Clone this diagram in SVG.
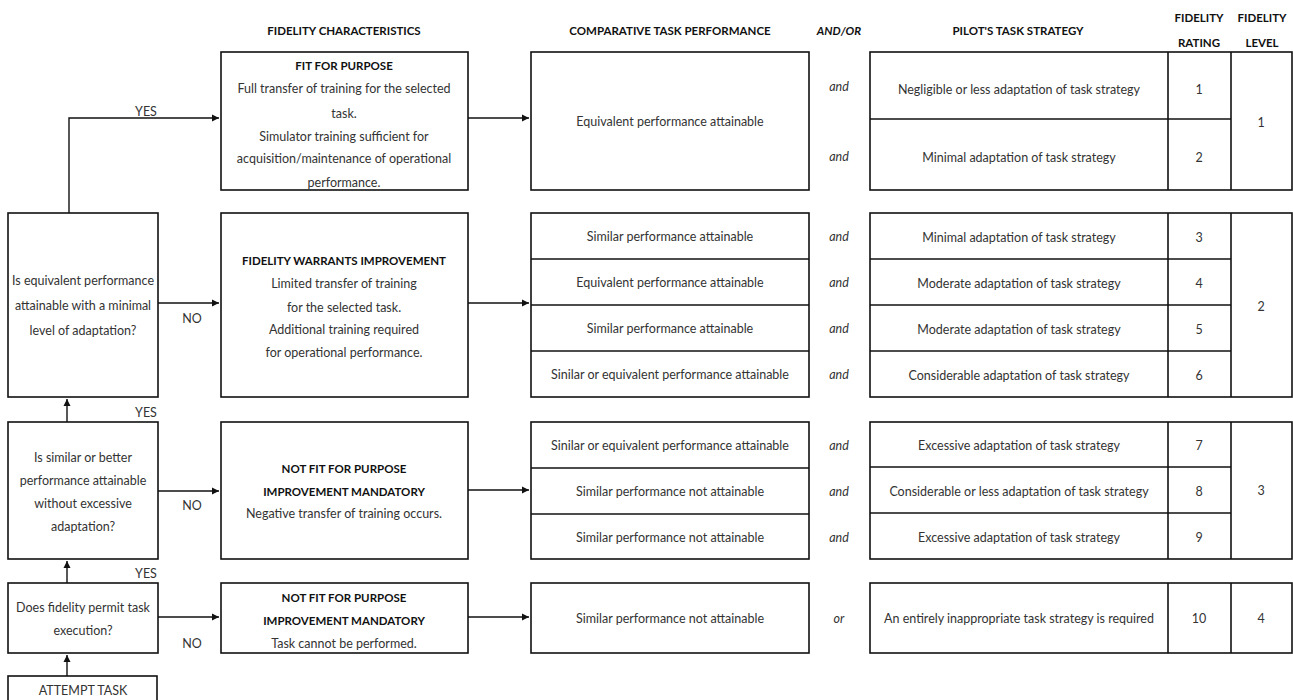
<svg xmlns="http://www.w3.org/2000/svg" width="1293" height="700" viewBox="0 0 1293 700">
<defs>
<marker id="arr" markerWidth="8" markerHeight="8" refX="7" refY="4" orient="auto" markerUnits="userSpaceOnUse">
<path d="M0,0.5 L7,4 L0,7.5 Z" fill="#111"/>
</marker>
<style>
text{font-family:Lato,"Open Sans","Liberation Sans",sans-serif;font-size:12.5px;fill:#333;text-anchor:middle;dominant-baseline:central}
.h{font-weight:bold;fill:#111;font-size:11.5px}
.hi{font-weight:bold;font-style:italic;fill:#111;font-size:11.5px}
.i{font-style:italic}
.box{fill:#fff;stroke:#111;stroke-width:1.6}
.ln{stroke:#111;stroke-width:1.6;fill:none}
.c{stroke:#111;stroke-width:1.4;fill:none}
</style>
</defs>
<rect width="1293" height="700" fill="#fff"/>

<g id="headers">
<text class="h" x="344" y="30">FIDELITY CHARACTERISTICS</text>
<text class="h" x="670" y="30">COMPARATIVE TASK PERFORMANCE</text>
<text class="hi" x="839" y="30">AND/OR</text>
<text class="h" x="1018" y="30">PILOT'S TASK STRATEGY</text>
<text class="h" x="1199" y="17">FIDELITY</text>
<text class="h" x="1199" y="42">RATING</text>
<text class="h" x="1262" y="17">FIDELITY</text>
<text class="h" x="1262" y="42">LEVEL</text>
</g>

<g id="connectors">
<polyline class="c" points="69,213 69,118 219,118" marker-end="url(#arr)"/>
<line class="c" x1="158" y1="303" x2="219" y2="303" marker-end="url(#arr)"/>
<line class="c" x1="67" y1="422" x2="67" y2="399" marker-end="url(#arr)"/>
<line class="c" x1="158" y1="491" x2="219" y2="491" marker-end="url(#arr)"/>
<line class="c" x1="67" y1="583" x2="67" y2="561" marker-end="url(#arr)"/>
<line class="c" x1="158" y1="617" x2="219" y2="617" marker-end="url(#arr)"/>
<line class="c" x1="67" y1="676" x2="67" y2="655" marker-end="url(#arr)"/>
<line class="c" x1="468" y1="118" x2="529" y2="118" marker-end="url(#arr)"/>
<line class="c" x1="468" y1="303" x2="529" y2="303" marker-end="url(#arr)"/>
<line class="c" x1="468" y1="490" x2="529" y2="490" marker-end="url(#arr)"/>
<line class="c" x1="468" y1="617" x2="529" y2="617" marker-end="url(#arr)"/>
<text x="146" y="111">YES</text>
<text x="192" y="318">NO</text>
<text x="146" y="412">YES</text>
<text x="192" y="505">NO</text>
<text x="146" y="573">YES</text>
<text x="192" y="643">NO</text>
</g>

<g id="q1">
<rect class="box" x="8" y="213" width="150" height="184"/>
<text x="83" y="280">Is equivalent performance</text>
<text x="83" y="305">attainable with a minimal</text>
<text x="83" y="330">level of adaptation?</text>
</g>
<g id="q2">
<rect class="box" x="8" y="422" width="150" height="137"/>
<text x="83" y="457">Is similar or better</text>
<text x="83" y="480">performance attainable</text>
<text x="83" y="503">without excessive</text>
<text x="83" y="526">adaptation?</text>
</g>
<g id="q3">
<rect class="box" x="8" y="583" width="150" height="70"/>
<text x="83" y="607">Does fidelity permit task</text>
<text x="83" y="630">execution?</text>
</g>
<g id="attempt">
<rect class="box" x="8" y="676" width="149" height="26"/>
<text x="83" y="690">ATTEMPT TASK</text>
</g>

<g id="fit">
<rect class="box" x="221" y="52" width="247" height="138"/>
<text class="h" x="344" y="65">FIT FOR PURPOSE</text>
<text x="344" y="88">Full transfer of training for the selected</text>
<text x="344" y="113">task.</text>
<text x="344" y="136">Simulator training sufficient for</text>
<text x="344" y="158">acquisition/maintenance of operational</text>
<text x="344" y="182">performance.</text>
</g>
<g id="fwi">
<rect class="box" x="221" y="213" width="247" height="184"/>
<text class="h" x="344" y="260">FIDELITY WARRANTS IMPROVEMENT</text>
<text x="344" y="283">Limited transfer of training</text>
<text x="344" y="307">for the selected task.</text>
<text x="344" y="329">Additional training required</text>
<text x="344" y="352">for operational performance.</text>
</g>
<g id="nfp1">
<rect class="box" x="221" y="422" width="247" height="137"/>
<text class="h" x="344" y="468">NOT FIT FOR PURPOSE</text>
<text class="h" x="344" y="491">IMPROVEMENT MANDATORY</text>
<text x="344" y="513">Negative transfer of training occurs.</text>
</g>
<g id="nfp2">
<rect class="box" x="221" y="583" width="247" height="70"/>
<text class="h" x="344" y="597">NOT FIT FOR PURPOSE</text>
<text class="h" x="344" y="620">IMPROVEMENT MANDATORY</text>
<text x="344" y="643">Task cannot be performed.</text>
</g>

<g id="comp1">
<rect class="box" x="531" y="52" width="278" height="138"/>
<text x="670" y="121">Equivalent performance attainable</text>
</g>
<g id="comp2">
<rect class="box" x="531" y="213" width="278" height="184"/>
<line class="ln" x1="531" y1="259" x2="809" y2="259"/>
<line class="ln" x1="531" y1="305" x2="809" y2="305"/>
<line class="ln" x1="531" y1="351" x2="809" y2="351"/>
<text x="670" y="236">Similar performance attainable</text>
<text x="670" y="282">Equivalent performance attainable</text>
<text x="670" y="328">Similar performance attainable</text>
<text x="670" y="374">Sinilar or equivalent performance attainable</text>
</g>
<g id="comp3">
<rect class="box" x="531" y="422" width="278" height="137"/>
<line class="ln" x1="531" y1="468" x2="809" y2="468"/>
<line class="ln" x1="531" y1="514" x2="809" y2="514"/>
<text x="670" y="445">Sinilar or equivalent performance attainable</text>
<text x="670" y="491">Similar performance not attainable</text>
<text x="670" y="537">Similar performance not attainable</text>
</g>
<g id="comp4">
<rect class="box" x="531" y="583" width="278" height="70"/>
<text x="670" y="618">Similar performance not attainable</text>
</g>

<g id="andor">
<text class="i" x="839" y="86">and</text>
<text class="i" x="839" y="156">and</text>
<text class="i" x="839" y="236">and</text>
<text class="i" x="839" y="282">and</text>
<text class="i" x="839" y="328">and</text>
<text class="i" x="839" y="374">and</text>
<text class="i" x="839" y="445">and</text>
<text class="i" x="839" y="491">and</text>
<text class="i" x="839" y="537">and</text>
<text class="i" x="839" y="618">or</text>
</g>

<g id="strategy1">
<rect class="box" x="870" y="52" width="422" height="138"/>
<line class="ln" x1="1168" y1="52" x2="1168" y2="190"/>
<line class="ln" x1="1231" y1="52" x2="1231" y2="190"/>
<line class="ln" x1="870" y1="119" x2="1231" y2="119"/>
<text x="1019" y="89">Negligible or less adaptation of task strategy</text>
<text x="1019" y="157">Minimal adaptation of task strategy</text>
<text x="1199" y="89">1</text>
<text x="1199" y="157">2</text>
<text x="1261" y="122">1</text>
</g>
<g id="strategy2">
<rect class="box" x="870" y="213" width="422" height="184"/>
<line class="ln" x1="1168" y1="213" x2="1168" y2="397"/>
<line class="ln" x1="1231" y1="213" x2="1231" y2="397"/>
<line class="ln" x1="870" y1="259" x2="1231" y2="259"/>
<line class="ln" x1="870" y1="305" x2="1231" y2="305"/>
<line class="ln" x1="870" y1="351" x2="1231" y2="351"/>
<text x="1019" y="237">Minimal adaptation of task strategy</text>
<text x="1019" y="283">Moderate adaptation of task strategy</text>
<text x="1019" y="329">Moderate adaptation of task strategy</text>
<text x="1019" y="375">Considerable adaptation of task strategy</text>
<text x="1199" y="237">3</text>
<text x="1199" y="283">4</text>
<text x="1199" y="329">5</text>
<text x="1199" y="375">6</text>
<text x="1261" y="306">2</text>
</g>
<g id="strategy3">
<rect class="box" x="870" y="422" width="422" height="137"/>
<line class="ln" x1="1168" y1="422" x2="1168" y2="559"/>
<line class="ln" x1="1231" y1="422" x2="1231" y2="559"/>
<line class="ln" x1="870" y1="467" x2="1231" y2="467"/>
<line class="ln" x1="870" y1="513" x2="1231" y2="513"/>
<text x="1019" y="445">Excessive adaptation of task strategy</text>
<text x="1019" y="491">Considerable or less adaptation of task strategy</text>
<text x="1019" y="537">Excessive adaptation of task strategy</text>
<text x="1199" y="445">7</text>
<text x="1199" y="491">8</text>
<text x="1199" y="537">9</text>
<text x="1261" y="490">3</text>
</g>
<g id="strategy4">
<rect class="box" x="870" y="583" width="422" height="70"/>
<line class="ln" x1="1168" y1="583" x2="1168" y2="653"/>
<line class="ln" x1="1231" y1="583" x2="1231" y2="653"/>
<text x="1019" y="618">An entirely inappropriate task strategy is required</text>
<text x="1199" y="618">10</text>
<text x="1261" y="618">4</text>
</g>
</svg>
